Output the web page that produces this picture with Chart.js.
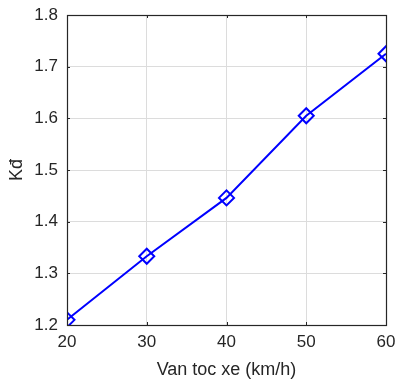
<!DOCTYPE html>
<html>
<head>
<meta charset="utf-8">
<script src="https://cdn.jsdelivr.net/npm/chart.js@4"></script>
<style>
  html, body { margin: 0; padding: 0; background: #fff; }
  #wrap { width: 396px; height: 383px; }
</style>
</head>
<body>
<div id="wrap"><canvas id="myChart" width="396" height="383"></canvas></div>
<script>
// Data
const speeds = [20, 30, 40, 50, 60];
const kdValues = [1.21, 1.333, 1.446, 1.605, 1.725];
const xTicks = [20, 30, 40, 50, 60];
const yTicks = [1.2, 1.3, 1.4, 1.5, 1.6, 1.7, 1.8];

const axisColor = '#262626';
const fontFamily = 'Liberation Sans, Arial, sans-serif';

// box + inner tick marks, matlab style
const boxPlugin = {
    id: 'box',
    afterDraw(chart) {
        const { ctx, chartArea: a, scales } = chart;
        ctx.save();
        ctx.strokeStyle = axisColor;
        ctx.lineWidth = 1;
        ctx.beginPath();
        xTicks.forEach(v => {
            const px = Math.round(scales.x.getPixelForValue(v)) + 0.5;
            ctx.moveTo(px, a.bottom); ctx.lineTo(px, a.bottom - 3);
            ctx.moveTo(px, a.top); ctx.lineTo(px, a.top + 3);
        });
        yTicks.forEach(v => {
            const py = Math.round(scales.y.getPixelForValue(v)) + 0.5;
            ctx.moveTo(a.left, py); ctx.lineTo(a.left + 3, py);
            ctx.moveTo(a.right, py); ctx.lineTo(a.right - 3, py);
        });
        ctx.stroke();
        ctx.lineWidth = 1.2;
        ctx.strokeRect(Math.round(a.left) + 0.5, Math.round(a.top) + 0.5,
            Math.round(a.right - a.left), Math.round(a.bottom - a.top));
        ctx.restore();
    }
};

const config = {
    type: 'line',
    data: {
        datasets: [{
            data: speeds.map((s, i) => ({ x: s, y: kdValues[i] })),
            borderColor: '#0000ff',
            borderWidth: 2,
            pointStyle: 'rectRot',
            pointRadius: 7.5,
            pointBorderWidth: 2,
            pointBorderColor: '#0000ff',
            pointBackgroundColor: 'rgba(0,0,0,0)',
            tension: 0
        }]
    },
    options: {
        responsive: false,
        animation: false,
        layout: { padding: { left: 0, right: 10, top: 15, bottom: 0 } },
        plugins: {
            legend: { display: false },
            tooltip: { enabled: false }
        },
        scales: {
            x: {
                type: 'linear',
                min: 20,
                max: 60,
                afterBuildTicks: s => { s.ticks = xTicks.map(v => ({ value: v })); },
                afterFit: s => { s.height = 58; s.paddingLeft = 0; s.paddingRight = 0; },
                grid: { color: '#dcdcdc', drawTicks: false },
                border: { display: false },
                ticks: {
                    color: axisColor,
                    padding: 7,
                    maxRotation: 0,
                    font: { family: fontFamily, size: 17 }
                },
                title: {
                    display: true,
                    text: 'Van toc xe (km/h)',
                    color: axisColor,
                    padding: { top: 0, bottom: 2 },
                    font: { family: fontFamily, size: 18 }
                }
            },
            y: {
                min: 1.2,
                max: 1.8,
                afterBuildTicks: s => { s.ticks = yTicks.map(v => ({ value: v })); },
                afterFit: s => { s.width = 67; s.paddingTop = 0; s.paddingBottom = 0; },
                grid: { color: '#dcdcdc', drawTicks: false },
                border: { display: false },
                ticks: {
                    color: axisColor,
                    padding: 9,
                    font: { family: fontFamily, size: 17 },
                    callback: v => v.toFixed(1)
                },
                title: {
                    display: true,
                    text: 'Kđ',
                    color: axisColor,
                    padding: { top: 6, bottom: 0 },
                    font: { family: fontFamily, size: 18 }
                }
            }
        }
    },
    plugins: [boxPlugin]
};

const myChart = new Chart(document.getElementById('myChart'), config);
</script>
</body>
</html>
